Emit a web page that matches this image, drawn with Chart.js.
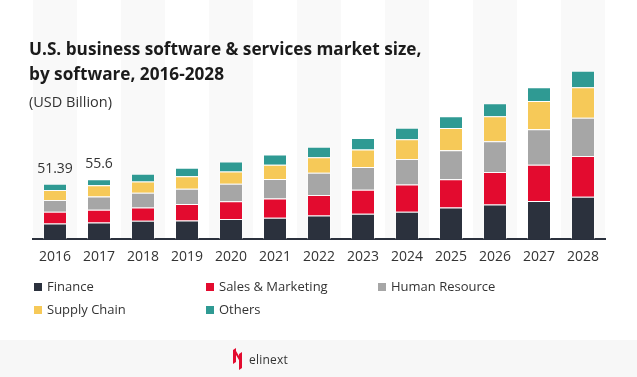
<!DOCTYPE html>
<html>
<head>
<meta charset="utf-8">
<script src="https://cdn.jsdelivr.net/npm/chart.js@4.4.1/dist/chart.umd.min.js"></script>
<style>
  html, body { margin: 0; padding: 0; background: #fff; }
  #wrap { position: relative; width: 637px; height: 377px; overflow: hidden; font-family: 'Open Sans', sans-serif; }
  #chart { position: absolute; left: 0; top: 0; }
  .title { position: absolute; left: 29px; color: #1b1b1b; font-weight: 700; font-size: 17.2px; white-space: nowrap; }
  .sub { position: absolute; left: 29px; top: 92px; color: #333; font-size: 14.5px; }
  #legend { position: absolute; left: 0; top: 0; width: 637px; height: 340px; pointer-events: none; }
  .lg { position: absolute; font-size: 13px; color: #333; white-space: nowrap; line-height: 16px; }
  .lg i { display: inline-block; width: 8px; height: 8px; margin-right: 5px; vertical-align: 0px; }
  #footer { position: absolute; left: 0; top: 340px; width: 637px; height: 37px; background: #f7f7f7; }
  #logo { position: absolute; left: 233px; top: 8px; display: flex; align-items: center; }
  #logo span { font-size: 12px; color: #333; margin-left: 7px; letter-spacing: 0.2px; }
</style>
</head>
<body>
<div id="wrap">
  <canvas id="chart" width="637" height="377"></canvas>
  <div class="title" style="top:37px">U.S. business software &amp; services market size,</div>
  <div class="title" style="top:62px">by software, 2016-2028</div>
  <div class="sub">(USD Billion)</div>
  <div id="legend"></div>
  <div id="footer">
    <div id="logo">
      <svg width="9" height="22" viewBox="0 0 9 22">
        <polygon points="0,2 3,0 3,14 0,16" fill="#e30b2f"/>
        <polygon points="3,3 9,13 9,17 3,7" fill="#e30b2f"/>
        <polygon points="6,6 9,4 9,20 6,22" fill="#e30b2f"/>
      </svg>
      <span>elinext</span>
    </div>
  </div>
</div>
<script>
const years = ['2016','2017','2018','2019','2020','2021','2022','2023','2024','2025','2026','2027','2028'];
const finance = [14.6, 15.5, 17.1, 17.4, 18.7, 19.9, 22.1, 23.6, 25.5, 29.5, 32.1, 35.5, 39.5];
const salesMarketing = [10.9, 11.9, 12.4, 15.3, 16.4, 17.8, 19.0, 22.4, 25.2, 26.2, 30.2, 33.6, 37.7];
const humanResource = [10.9, 12.2, 13.5, 14.0, 16.3, 18.1, 20.6, 20.9, 23.7, 26.8, 28.7, 33.0, 35.5];
const supplyChain = [9.3, 10.4, 10.6, 11.8, 11.5, 13.4, 14.3, 16.4, 18.3, 20.8, 23.1, 26.2, 28.4];
const others = [5.69, 5.6, 7.2, 7.9, 9.3, 9.3, 9.7, 10.7, 10.7, 10.9, 12.1, 12.8, 15.2];
const totalLabels = ['51.39', '55.6'];

const seriesNames = ['Finance', 'Sales & Marketing', 'Human Resource', 'Supply Chain', 'Others'];
const seriesColors = ['#2b313d', '#e30b2f', '#a6a6a6', '#f6c958', '#2f9a93'];
const seriesData = [finance, salesMarketing, humanResource, supplyChain, others];

// faint stripes behind every other year
const stripes = {
  id: 'stripes',
  beforeDraw(chart) {
    const ctx = chart.ctx, x = chart.scales.x, area = chart.chartArea;
    const w = x.width / years.length;
    ctx.save();
    ctx.fillStyle = '#f9f9f9';
    years.forEach((y, i) => {
      if (i % 2 === 0) ctx.fillRect(x.getPixelForValue(i) - w / 2, 0, w, area.bottom);
    });
    ctx.restore();
  }
};

// total labels above the first bars
const totals = {
  id: 'totals',
  afterDatasetsDraw(chart) {
    const ctx = chart.ctx;
    const top = chart.getDatasetMeta(seriesNames.length - 1);
    ctx.save();
    ctx.font = '14px "Open Sans"';
    ctx.fillStyle = '#333';
    ctx.textAlign = 'center';
    ctx.textBaseline = 'alphabetic';
    totalLabels.forEach((t, i) => {
      const bar = top.data[i];
      ctx.fillText(t, bar.x, bar.y - 11);
    });
    ctx.restore();
  }
};

const chart = new Chart(document.getElementById('chart'), {
  type: 'bar',
  data: {
    labels: years,
    datasets: seriesNames.map((n, i) => ({
      label: n,
      data: seriesData[i],
      backgroundColor: seriesColors[i],
      borderColor: 'rgba(255,255,255,0.35)',
      borderWidth: 1,
      categoryPercentage: 1,
      barPercentage: 24 / 44
    }))
  },
  options: {
    responsive: false,
    animation: false,
    layout: { padding: { left: 33, right: 32, top: 56, bottom: 103 } },
    plugins: { legend: { display: false }, tooltip: { enabled: false } },
    scales: {
      x: {
        stacked: true,
        grid: { display: false, drawTicks: false },
        border: { display: true, color: '#2b313d', width: 2 },
        ticks: { color: '#333', font: { family: 'Open Sans', size: 14 }, padding: 9, maxRotation: 0 }
      },
      y: {
        stacked: true,
        display: false,
        min: 0,
        max: 170
      }
    }
  },
  plugins: [stripes, totals]
});

// legend built from the datasets
const legend = document.getElementById('legend');
chart.data.datasets.forEach((ds, i) => {
  const el = document.createElement('div');
  el.className = 'lg';
  el.style.left = (34 + (i % 3) * 172) + 'px';
  el.style.top = (278 + Math.floor(i / 3) * 23) + 'px';
  el.innerHTML = '<i style="background:' + ds.backgroundColor + '"></i>';
  el.appendChild(document.createTextNode(ds.label));
  legend.appendChild(el);
});
</script>
</body>
</html>
